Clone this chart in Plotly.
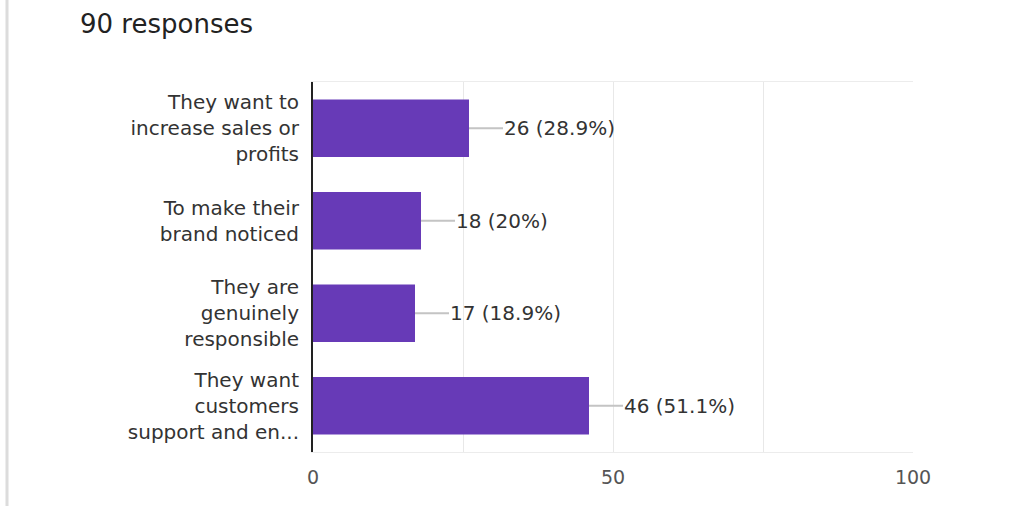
import plotly.graph_objects as go

# Survey question results (90 responses)
total_responses = 90
categories = [
    "They want to increase sales or profits",
    "To make their brand noticed",
    "They are genuinely responsible",
    "They want customers support and en...",
]
tick_labels = [
    "They want to<br>increase sales or<br>profits",
    "To make their<br>brand noticed",
    "They are<br>genuinely<br>responsible",
    "They want<br>customers<br>support and en...",
]
counts = [26, 18, 17, 46]
x_tick_values = [0, 25, 50, 75, 100]
x_tick_text = ["0", "", "50", "", "100"]

BAR_COLOR = "#673ab7"
FONT = "DejaVu Sans"

fig = go.Figure(
    go.Bar(
        x=counts,
        y=categories,
        orientation="h",
        marker=dict(color=BAR_COLOR, line=dict(width=0)),
        width=0.62,
        hoverinfo="skip",
    )
)

# Value labels with short grey leader lines
for cat, n in zip(categories, counts):
    pct = round(n / total_responses * 100, 1)
    fig.add_annotation(
        x=n,
        y=cat,
        xref="x",
        yref="y",
        text=f"{n} ({pct:g}%)",
        showarrow=True,
        arrowhead=0,
        arrowwidth=2,
        arrowcolor="#c4c4c4",
        ax=34,
        ay=0,
        xanchor="left",
        yanchor="middle",
        borderpad=0,
        standoff=0,
        font=dict(family=FONT, size=20, color="#333333"),
    )

# Page border on the left
fig.add_shape(
    type="line",
    xref="paper",
    yref="paper",
    x0=-0.51,
    x1=-0.51,
    y0=-0.2,
    y1=1.3,
    line=dict(color="#dcdcdc", width=3),
)

fig.update_layout(
    width=1030,
    height=506,
    margin=dict(l=313, r=117, t=82, b=54),
    paper_bgcolor="white",
    plot_bgcolor="white",
    showlegend=False,
    title=dict(
        text="90 responses",
        x=80 / 1030,
        xanchor="left",
        xref="container",
        y=1 - 24 / 506,
        yanchor="middle",
        yref="container",
        font=dict(family=FONT, size=26, color="#222222"),
    ),
    xaxis=dict(
        range=[0, 100],
        tickvals=x_tick_values,
        ticktext=x_tick_text,
        showgrid=True,
        gridcolor="#e8e8e8",
        gridwidth=1,
        zeroline=False,
        showline=True,
        linecolor="#ececec",
        linewidth=1,
        mirror=True,
        ticks="",
        ticklabelstandoff=8,
        tickfont=dict(family=FONT, size=19, color="#555555"),
        fixedrange=True,
    ),
    yaxis=dict(
        categoryorder="array",
        categoryarray=categories,
        autorange="reversed",
        tickvals=categories,
        ticktext=tick_labels,
        showgrid=False,
        zeroline=False,
        showline=True,
        linecolor="#222222",
        linewidth=2,
        ticks="",
        ticklabelstandoff=8,
        tickfont=dict(family=FONT, size=20, color="#333333"),
        fixedrange=True,
    ),
)

fig.write_html("out.html")
